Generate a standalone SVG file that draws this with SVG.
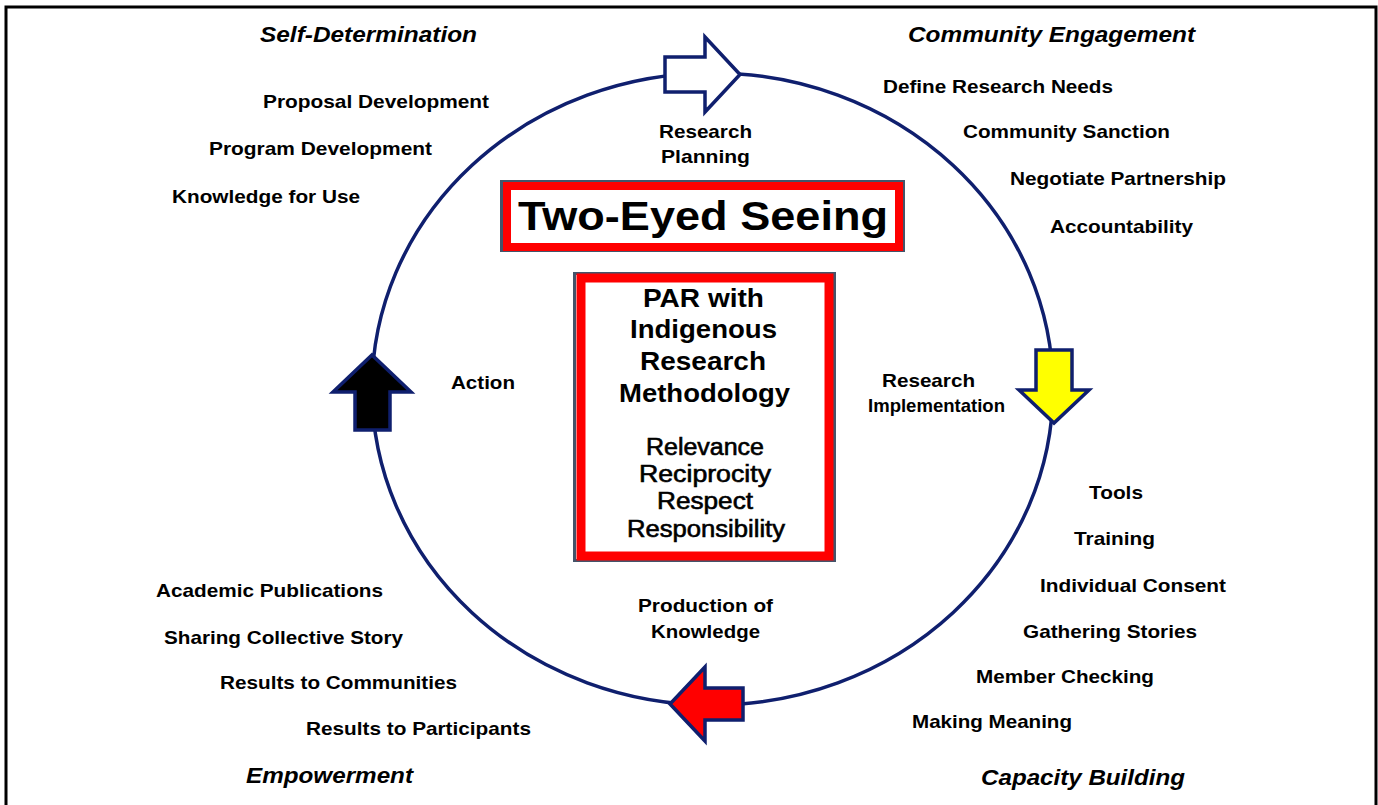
<svg xmlns="http://www.w3.org/2000/svg" width="1378" height="805" viewBox="0 0 1378 805">
<style>
text{font-family:"Liberation Sans",Arial,sans-serif;fill:#000;}
.lb{font-size:19px;font-weight:bold;}
.hd{font-size:22px;font-weight:bold;font-style:italic;}
.par{font-size:25px;font-weight:bold;}
.val{font-size:23px;stroke:#000;stroke-width:0.6px;}
.title{font-size:40px;font-weight:bold;}
.arrow{stroke:#0f1f6e;stroke-width:3.5;stroke-linejoin:miter;}
</style>
<rect x="0" y="0" width="1378" height="805" fill="#fff"/>
<path d="M6,805 V7 H1376 V805" fill="none" stroke="#000" stroke-width="3"/>

<g id="connectors">
<ellipse cx="712.5" cy="389" rx="340.5" ry="316" fill="none" stroke="#0f1f6e" stroke-width="3.5"/>
</g>

<g id="arrow-planning"><polygon class="arrow" fill="#fff" points="665,57 705,57 705,37 740,74.5 705,112 705,92 665,92"/></g>
<g id="arrow-implementation"><polygon class="arrow" fill="#ffff00" points="1036,350 1072,350 1072,390 1089,390 1054,423 1019,390 1036,390"/></g>
<g id="arrow-production"><polygon class="arrow" fill="#ff0000" points="743,688 743,720 705,720 705,741 670,704 705,667 705,688"/></g>
<g id="arrow-action"><polygon class="arrow" fill="#000" points="355,430 355,392 333,392 372,355 411,392 390,392 390,430"/></g>

<g id="title-box">
<rect x="501.5" y="181.5" width="402" height="69" fill="none" stroke="#44546a" stroke-width="3"/>
<rect x="507" y="186" width="392" height="61" fill="#fff" stroke="#ff0000" stroke-width="8"/>
<text class="title" x="518" y="230" textLength="370" lengthAdjust="spacingAndGlyphs">Two-Eyed Seeing</text>
</g>

<g id="par-box">
<rect x="574.5" y="273.5" width="260" height="287" fill="none" stroke="#44546a" stroke-width="3"/>
<rect x="581" y="278" width="248" height="278" fill="#fff" stroke="#ff0000" stroke-width="9"/>
<text class="par" x="643" y="307" textLength="121" lengthAdjust="spacingAndGlyphs">PAR with</text>
<text class="par" x="630" y="338" textLength="147" lengthAdjust="spacingAndGlyphs">Indigenous</text>
<text class="par" x="640" y="370" textLength="126" lengthAdjust="spacingAndGlyphs">Research</text>
<text class="par" x="619" y="402" textLength="171" lengthAdjust="spacingAndGlyphs">Methodology</text>
<text class="val" x="646" y="455" textLength="118" lengthAdjust="spacingAndGlyphs">Relevance</text>
<text class="val" x="639" y="482" textLength="132" lengthAdjust="spacingAndGlyphs">Reciprocity</text>
<text class="val" x="657" y="509" textLength="96" lengthAdjust="spacingAndGlyphs">Respect</text>
<text class="val" x="627" y="537" textLength="158" lengthAdjust="spacingAndGlyphs">Responsibility</text>
</g>

<g id="stage-planning">
<text class="lb" x="659" y="138" textLength="93" lengthAdjust="spacingAndGlyphs">Research</text>
<text class="lb" x="661" y="163" textLength="89" lengthAdjust="spacingAndGlyphs">Planning</text>
</g>
<g id="stage-implementation">
<text class="lb" x="882" y="387" textLength="93" lengthAdjust="spacingAndGlyphs">Research</text>
<text class="lb" x="868" y="412" textLength="137" lengthAdjust="spacingAndGlyphs">Implementation</text>
</g>
<g id="stage-production">
<text class="lb" x="638" y="612" textLength="135" lengthAdjust="spacingAndGlyphs">Production of</text>
<text class="lb" x="651" y="638" textLength="109" lengthAdjust="spacingAndGlyphs">Knowledge</text>
</g>
<g id="stage-action">
<text class="lb" x="451" y="389" textLength="64" lengthAdjust="spacingAndGlyphs">Action</text>
</g>

<g id="self-determination">
<text class="hd" x="260" y="42" textLength="217" lengthAdjust="spacingAndGlyphs">Self-Determination</text>
<text class="lb" x="263" y="108" textLength="226" lengthAdjust="spacingAndGlyphs">Proposal Development</text>
<text class="lb" x="209" y="155" textLength="223" lengthAdjust="spacingAndGlyphs">Program Development</text>
<text class="lb" x="172" y="203" textLength="188" lengthAdjust="spacingAndGlyphs">Knowledge for Use</text>
</g>

<g id="community-engagement">
<text class="hd" x="908" y="42" textLength="287" lengthAdjust="spacingAndGlyphs">Community Engagement</text>
<text class="lb" x="883" y="93" textLength="230" lengthAdjust="spacingAndGlyphs">Define Research Needs</text>
<text class="lb" x="963" y="138" textLength="207" lengthAdjust="spacingAndGlyphs">Community Sanction</text>
<text class="lb" x="1010" y="185" textLength="216" lengthAdjust="spacingAndGlyphs">Negotiate Partnership</text>
<text class="lb" x="1050" y="233" textLength="143" lengthAdjust="spacingAndGlyphs">Accountability</text>
</g>

<g id="capacity-building">
<text class="lb" x="1089" y="499" textLength="54" lengthAdjust="spacingAndGlyphs">Tools</text>
<text class="lb" x="1074" y="545" textLength="81" lengthAdjust="spacingAndGlyphs">Training</text>
<text class="lb" x="1040" y="592" textLength="186" lengthAdjust="spacingAndGlyphs">Individual Consent</text>
<text class="lb" x="1023" y="638" textLength="174" lengthAdjust="spacingAndGlyphs">Gathering Stories</text>
<text class="lb" x="976" y="683" textLength="178" lengthAdjust="spacingAndGlyphs">Member Checking</text>
<text class="lb" x="912" y="728" textLength="160" lengthAdjust="spacingAndGlyphs">Making Meaning</text>
<text class="hd" x="981" y="785" textLength="204" lengthAdjust="spacingAndGlyphs">Capacity Building</text>
</g>

<g id="empowerment">
<text class="lb" x="156" y="597" textLength="227" lengthAdjust="spacingAndGlyphs">Academic Publications</text>
<text class="lb" x="164" y="644" textLength="239" lengthAdjust="spacingAndGlyphs">Sharing Collective Story</text>
<text class="lb" x="220" y="689" textLength="237" lengthAdjust="spacingAndGlyphs">Results to Communities</text>
<text class="lb" x="306" y="735" textLength="225" lengthAdjust="spacingAndGlyphs">Results to Participants</text>
<text class="hd" x="246" y="783" textLength="167" lengthAdjust="spacingAndGlyphs">Empowerment</text>
</g>
</svg>
